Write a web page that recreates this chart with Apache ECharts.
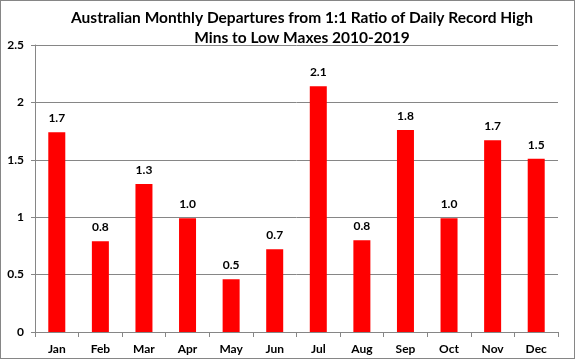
<!DOCTYPE html>
<html><head><meta charset="utf-8">
<script src="https://cdn.jsdelivr.net/npm/echarts@6/dist/echarts.min.js"></script>
<style>html,body{margin:0;padding:0;background:#fff}#c{width:575px;height:359px;box-sizing:border-box;border:1px solid #868686}</style>
</head><body><div id="c"></div>
<script>
const categories = ['Jan','Feb','Mar','Apr','May','Jun','Jul','Aug','Sep','Oct','Nov','Dec'];
const values = [1.74, 0.79, 1.29, 0.99, 0.46, 0.72, 2.14, 0.80, 1.76, 0.99, 1.67, 1.51];
const titleLines = ['Australian Monthly Departures from 1:1 Ratio of Daily Record High', 'Mins to Low Maxes 2010-2019'];
const font = 'Lato, "Open Sans", sans-serif';
const chart = echarts.init(document.getElementById('c'));
chart.setOption({
  animation: false,
  title: {
    text: titleLines.join('\n'), left: 296, top: 2, textAlign: 'center',
    textStyle: {fontFamily: font, fontSize: 15.5, fontWeight: 'bold', color: '#000', lineHeight: 20}
  },
  grid: {left: 34, right: 16, top: 44, bottom: 26},
  xAxis: {
    type: 'category', data: categories,
    axisLine: {lineStyle: {color: '#868686'}},
    axisTick: {show: true, alignWithLabel: false, length: 5, lineStyle: {color: '#868686'}},
    axisLabel: {fontFamily: font, fontSize: 12, fontWeight: 'bold', color: '#000', margin: 11}
  },
  yAxis: {
    type: 'value', min: 0, max: 2.5, interval: 0.5,
    axisLine: {show: true, lineStyle: {color: '#868686'}},
    axisTick: {show: true, length: 4, lineStyle: {color: '#868686'}},
    splitLine: {lineStyle: {color: '#868686'}},
    axisLabel: {fontFamily: font, fontSize: 12, fontWeight: 'bold', color: '#000', margin: 11}
  },
  series: [{
    type: 'bar', data: values, barWidth: 17,
    itemStyle: {color: '#ff0000'},
    label: {show: true, position: 'top', distance: 8, formatter: p => p.value.toFixed(1),
      fontFamily: font, fontSize: 12, fontWeight: 'bold', color: '#000'}
  }]
});
</script></body></html>
